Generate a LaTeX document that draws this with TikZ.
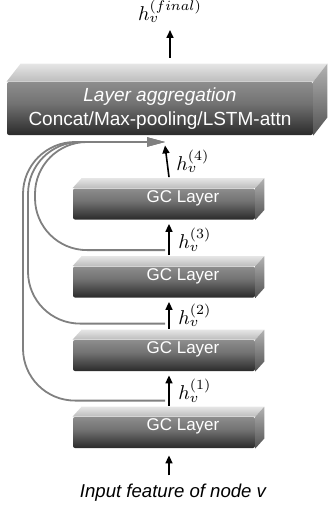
\documentclass[tikz,border=0pt]{standalone}
\usepackage{fontspec}
\setmainfont{Liberation Sans}
\usepackage{tikz}
\usetikzlibrary{arrows.meta,calc,positioning}

\pgfdeclareverticalshading{faceshade}{100bp}{color(0bp)=(black); color(18bp)=(black!90); color(55bp)=(black!55); color(100bp)=(black!32)}
\newcommand{\boxfaces}[3]{%
  \path[topface] (#1.north west) -- ++(#2,#3) -- ($(#1.north east)+(#2,#3)$) -- (#1.north east) -- cycle;
  \path[sideface] (#1.north east) -- ++(#2,#3) -- ($(#1.south east)+(#2,#3)$) -- (#1.south east) -- cycle;}

\begin{document}
\begin{tikzpicture}[x=0.5pt,y=-0.5pt]
	\tikzstyle{gclayer} = [rectangle, rounded corners=1pt, shading=faceshade, minimum width=91pt, minimum height=15.5pt, inner sep=0pt]
	\tikzstyle{gctext} = [text=white, font=\fontsize{8.5}{10}\selectfont, xshift=9.5pt, yshift=3pt]
	\tikzstyle{topface} = [top color=black!10, bottom color=black!26]
	\tikzstyle{sideface} = [top color=black!30, bottom color=black!68]
	\tikzstyle{arr} = [draw, line width=0.8pt, -{Triangle[length=4pt,width=3.5pt]}]
	\tikzstyle{skipline} = [draw=black!50, line width=0.9pt, rounded corners=26pt, -{Triangle[length=9pt,width=4.5pt]}]
	\tikzstyle{hlabel} = [right, midway, xshift=1pt]
	\useasboundingbox (0,0) rectangle (328,508);

\node[gclayer, label={[gctext]center:GC Layer}] (1) at (164,432.5) {};
\node[gclayer, label={[gctext]center:GC Layer}] (2) at (164,355.5) {};
\node[gclayer, label={[gctext]center:GC Layer}] (3) at (164,282) {};
\node[gclayer, label={[gctext]center:GC Layer}] (4) at (164,204) {};
\node[gclayer, minimum width=153pt, minimum height=26.5pt, text=white, align=center, font=\fontsize{9.5}{12}\selectfont] (5) at (160,108.5) {\textit{Layer aggregation}\\Concat/Max-pooling/LSTM-attn};
	\boxfaces{1}{9}{-10}
	\boxfaces{2}{9}{-10}
	\boxfaces{3}{9}{-10}
	\boxfaces{4}{9}{-10}
	\boxfaces{5}{14}{-18}
\node[font=\fontsize{9.3}{11}\selectfont\itshape] (0) at (173,493) {Input feature of node v};
\node[anchor=south] (6) at (170,30) {$h_v^{(final)}$};

	\path[arr] ([shift={(-4,-2)}]0.north) -- ([shift={(5,7)}]1.south);
	\path[arr] ([shift={(5,-11)}]1.north) -- node[hlabel] {$h_v^{(1)}$} ([shift={(5,4)}]2.south);
	\path[arr] ([shift={(5,-11)}]2.north) -- node[hlabel] {$h_v^{(2)}$} ([shift={(5,4)}]3.south);
	\path[arr] ([shift={(5,-11)}]3.north) -- node[hlabel] {$h_v^{(3)}$} ([shift={(5,4)}]4.south);
	\path[arr] ([shift={(5,-11)}]4.north) -- node[hlabel] {$h_v^{(4)}$} ([shift={(5,10)}]5.south);
	\path[arr] ([shift={(10,-24)}]5.north) -- (6.south);

\coordinate (s) at (165,142);
	\path[skipline] ($(1.north)+(1,-16)$) -| (23,142) -- (s);
	\path[skipline] ($(2.north)+(1,-16)$) -| (28,142) -- (s);
	\path[skipline] ($(3.north)+(1,-16)$) -| (35,142) -- (s);
\end{tikzpicture}
\end{document}
